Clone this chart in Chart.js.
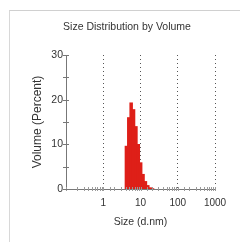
<!DOCTYPE html>
<html>
<head>
<meta charset="utf-8">
<script src="https://cdn.jsdelivr.net/npm/chart.js@4/dist/chart.umd.min.js"></script>
<style>
  html, body { margin: 0; padding: 0; background: #fff; }
  #wrap { position: relative; width: 240px; height: 242px; }
  #frame { position: absolute; left: 9px; top: 10px; right: 0; bottom: 0;
           border-top: 1px solid #d0d0d0; border-left: 1px solid #d8d8d8; }
  canvas { position: absolute; left: 0; top: 0; }
</style>
</head>
<body>
<div id="wrap">
  <div id="frame"></div>
  <canvas id="chart" width="240" height="242"></canvas>
</div>
<script>
// size bins (d.nm) and volume percent per bin
const sizes = [4.187, 4.849, 5.615, 6.503, 7.531, 8.721, 10.10, 11.70, 13.54, 15.69, 18.17, 21.04];
const volume = [9.6, 16.0, 19.3, 17.8, 14.0, 10.0, 5.9, 3.3, 1.7, 0.8, 0.3, 0.1];

const xMajor = [1, 10, 100, 1000];
const yLabels = [0, 10, 20, 30];

const TITLE = 'Size Distribution by Volume';
const TEXT = '#333';
const FONT = 'Liberation Sans, Arial, sans-serif';

// title sits a bit left of the plot centre, so it's drawn by hand
const chartTitle = {
    id: 'chartTitle',
    afterDraw(chart) {
        const { ctx } = chart;
        ctx.save();
        ctx.fillStyle = TEXT;
        ctx.font = `10.5px ${FONT}`;
        ctx.textAlign = 'center';
        ctx.textBaseline = 'middle';
        ctx.fillText(TITLE, 127, 27);
        ctx.restore();
    }
};

// small crossing tick marks on both axes
const axisTicks = {
    id: 'axisTicks',
    afterDraw(chart) {
        const { ctx, scales: { x, y } } = chart;
        ctx.save();
        ctx.lineWidth = 1;
        ctx.strokeStyle = '#9a9a9a';
        x.ticks.forEach(t => {
            const px = Math.round(x.getPixelForValue(t.value)) + 0.5;
            ctx.beginPath();
            ctx.moveTo(px, y.bottom - 2);
            ctx.lineTo(px, y.bottom + 2);
            ctx.stroke();
        });
        ctx.strokeStyle = '#777';
        y.ticks.forEach(t => {
            const py = Math.round(y.getPixelForValue(t.value)) + 0.5;
            ctx.beginPath();
            ctx.moveTo(x.left - 3, py);
            ctx.lineTo(x.left + 3, py);
            ctx.stroke();
        });
        ctx.restore();
    }
};

new Chart(document.getElementById('chart'), {
    type: 'bar',
    data: {
        datasets: [{
            data: sizes.map((s, i) => ({ x: s, y: volume[i] })),
            backgroundColor: '#de1f18',
            borderWidth: 0,
            barThickness: 'flex',
            barPercentage: 1.2,
            categoryPercentage: 1,
        }]
    },
    options: {
        responsive: false,
        animation: false,
        layout: { padding: { top: 55, left: 0, right: 25, bottom: 0 } },
        plugins: {
            legend: { display: false },
            tooltip: { enabled: false },
            title: { display: false }
        },
        scales: {
            x: {
                type: 'logarithmic',
                min: 0.1,
                max: 1000,
                offset: false,
                afterFit: s => { s.height = 53; },
                grid: {
                    offset: false,
                    drawTicks: false,
                    lineWidth: 1,
                    color: c => xMajor.includes(c.tick && c.tick.value) ? '#555' : 'rgba(0,0,0,0)'
                },
                border: { color: '#777', width: 1, dash: [1, 3] },
                ticks: {
                    autoSkip: false,
                    maxRotation: 0,
                    padding: 8,
                    color: TEXT,
                    font: { family: FONT, size: 10 },
                    callback: v => xMajor.includes(v) ? String(v) : ''
                },
                title: {
                    display: true,
                    text: 'Size (d.nm)',
                    color: TEXT,
                    font: { family: FONT, size: 10.5 },
                    padding: { top: 0, bottom: 14 }
                }
            },
            y: {
                min: 0,
                max: 30,
                afterFit: s => { s.width = 66; },
                grid: { display: false, drawTicks: false },
                border: { color: '#777', width: 1 },
                ticks: {
                    stepSize: 5,
                    padding: 3,
                    color: TEXT,
                    font: { family: FONT, size: 10.5 },
                    callback: v => yLabels.includes(v) ? String(v) : ''
                },
                title: {
                    display: true,
                    text: 'Volume (Percent)',
                    color: TEXT,
                    font: { family: FONT, size: 12 },
                    padding: { top: 30, bottom: 0 }
                }
            }
        }
    },
    plugins: [axisTicks, chartTitle]
});
</script>
</body>
</html>
